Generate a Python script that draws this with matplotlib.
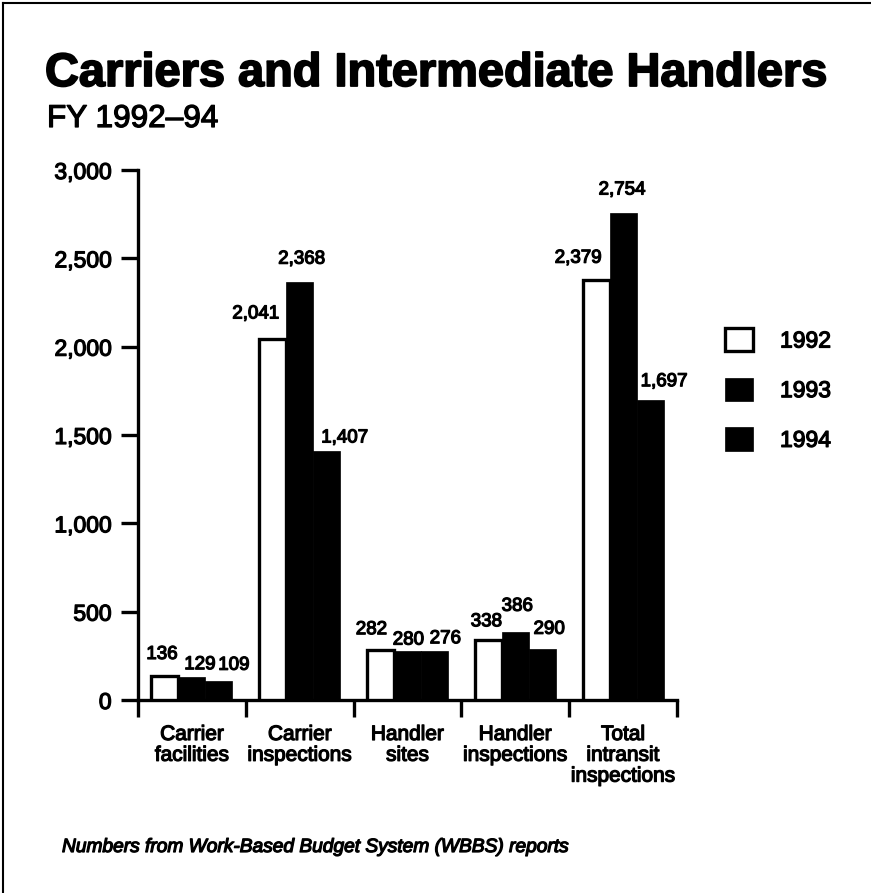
import matplotlib
matplotlib.use("Agg")
import matplotlib.pyplot as plt
from matplotlib.lines import Line2D
import matplotlib.patheffects as pe
import numpy as np

plt.rcParams['font.family'] = ['Liberation Sans', 'DejaVu Sans']

categories = ["Carrier\nfacilities", "Carrier\ninspections", "Handler\nsites",
              "Handler\ninspections", "Total\nintransit\ninspections"]
years = ["1992", "1993", "1994"]
values_1992 = [136, 2041, 282, 338, 2379]
values_1993 = [129, 2368, 280, 386, 2754]
values_1994 = [109, 1407, 276, 290, 1697]
yticks = [0, 500, 1000, 1500, 2000, 2500, 3000]
ytick_labels = ["0", "500", "1,000", "1,500", "2,000", "2,500", "3,000"]

# label offsets in pixels (dx, dy) - styling only
label_dx = [[-3, -17, -9, -2, -18], [8, 2, 1, 2, -1], [15, 18, 11, 7, 14]]
label_dy = [[13, 17, 12, 10, 13], [4, 14, 2, 17, 15], [7, 5, 4, 11, 10]]

heavy = [pe.withStroke(linewidth=0.9, foreground="black")]
heavier = [pe.withStroke(linewidth=1.3, foreground="black")]

W, H = 871, 893
fig = plt.figure(figsize=(W / 100, H / 100), dpi=100)
ax = fig.add_axes([138 / W, 1 - 700 / H, 539 / W, 530 / H])

x = np.arange(len(categories))
bw = 0.25
series = [values_1992, values_1993, values_1994]
styles = [dict(facecolor="white", edgecolor="black", linewidth=2.4),
          dict(facecolor="black", edgecolor="black", linewidth=0.5),
          dict(facecolor="black", edgecolor="black", linewidth=0.5)]
bars = []
for k, (vals, st) in enumerate(zip(series, styles)):
    b = ax.bar(x + (k - 1) * bw, vals, bw, label=years[k], zorder=3, **st)
    bars.append(b)
    for i, v in enumerate(vals):
        ax.annotate(f"{v:,}", (x[i] + (k - 1) * bw, v),
                    xytext=(label_dx[k][i] * 0.72, label_dy[k][i] * 0.72),
                    textcoords="offset points", ha="center", va="bottom",
                    fontsize=13.5, color="black", path_effects=heavy)

ax.set_xlim(-0.5, len(categories) - 0.5)
ax.set_ylim(0, 3000)
ax.set_yticks(yticks)
ax.set_yticklabels(ytick_labels, fontsize=16.5)
ax.tick_params(axis="y", length=12, width=2.4, pad=7, direction="out")
for t in ax.get_yticklabels():
    t.set_path_effects(heavy)

# category boundary ticks and centred labels
ax.set_xticks(np.arange(-0.5, len(categories), 1.0))
ax.set_xticklabels([])
ax.tick_params(axis="x", which="major", length=12, width=2.4, direction="out")
ax.set_xticks(x, minor=True)
ax.set_xticklabels(categories, minor=True, fontsize=15, linespacing=1.12)
ax.tick_params(axis="x", which="minor", length=0, pad=18)
for t in ax.get_xticklabels(minor=True):
    t.set_path_effects(heavy)

for s in ["top", "right"]:
    ax.spines[s].set_visible(False)
for s in ["left", "bottom"]:
    ax.spines[s].set_linewidth(2.4)
ax.spines["left"].set_bounds(0, 3000)

leg = ax.legend(handles=bars, labels=years, loc="upper left",
                bbox_to_anchor=(725 / W, 1 - 328 / H), bbox_transform=fig.transFigure,
                frameon=False, fontsize=16.5, handlelength=1.2, handleheight=1.2,
                handletextpad=1.2, labelspacing=1.1, borderpad=0, borderaxespad=0)
for t in leg.get_texts():
    t.set_path_effects(heavy)

def fit_text(t, target_px):
    fig.canvas.draw()
    r = fig.canvas.get_renderer()
    w = t.get_window_extent(r).width
    t.set_fontsize(t.get_fontsize() * target_px / w)

title = fig.text(45 / W, 1 - 86 / H, "Carriers and Intermediate Handlers",
                 fontsize=32, fontweight="bold", ha="left", va="baseline",
                 path_effects=heavier)
sub = fig.text(47 / W, 1 - 127 / H, "FY 1992\u201394", fontsize=22, ha="left", va="baseline",
               path_effects=heavy)
foot = fig.text(62 / W, 1 - 852 / H, "Numbers from Work-Based Budget System (WBBS) reports",
                fontsize=13, fontstyle="italic", ha="left", va="baseline", path_effects=heavy)
fit_text(title, 783)
fit_text(sub, 171)
fit_text(foot, 505)

# frame lines (top and left)
fig.add_artist(Line2D([3 / W, 1], [1 - 3 / H, 1 - 3 / H], transform=fig.transFigure, color="black", lw=1.5))
fig.add_artist(Line2D([3 / W, 3 / W], [0, 1 - 3 / H], transform=fig.transFigure, color="black", lw=1.5))

fig.savefig("out.png", dpi=100)
